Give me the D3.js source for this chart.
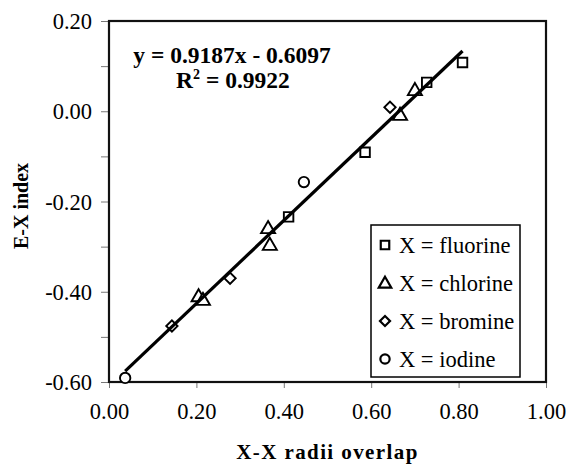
<!DOCTYPE html>
<html>
<head>
<meta charset="utf-8">
<script src="https://cdn.jsdelivr.net/npm/d3@7"></script>
<style>
  body { margin: 0; background: #fff; }
  text { font-family: "Liberation Serif", "Times New Roman", serif; fill: #000; }
</style>
</head>
<body>
<div id="chart"></div>
<script>
// values
var fluorineX = [0.809, 0.727, 0.586, 0.411];
var fluorineY = [0.108, 0.064, -0.091, -0.234];
var chlorineX = [0.700, 0.666, 0.364, 0.368, 0.205, 0.215];
var chlorineY = [0.047, -0.008, -0.259, -0.296, -0.410, -0.418];
var bromineX = [0.643, 0.277, 0.144];
var bromineY = [0.009, -0.370, -0.476];
var iodineX = [0.446, 0.037];
var iodineY = [-0.157, -0.591];

var seriesNames = ['X = fluorine', 'X = chlorine', 'X = bromine', 'X = iodine'];
var xTicks = [0, 0.2, 0.4, 0.6, 0.8, 1.0];
var yTicks = [-0.6, -0.5, -0.4, -0.3, -0.2, -0.1, 0, 0.1, 0.2];

var slope = 0.9187, intercept = -0.6097, r2 = 0.9922;

var width = 569, height = 464;
var plotL = 109, plotR = 546, plotT = 21, plotB = 382;

var svg = d3.select('#chart').append('svg')
  .attr('width', width)
  .attr('height', height);

var x = d3.scaleLinear().domain([0, 1]).range([plotL, plotR]);
var y = d3.scaleLinear().domain([-0.6, 0.2]).range([plotB, plotT]);

var fmt = function(d) {
  var s = Math.abs(d).toFixed(2);
  return (d < -1e-9 ? '-' : '') + s;
};

// y axis: ticks every 0.1, labels every 0.2
var yAxis = svg.append('g')
  .attr('transform', 'translate(' + plotL + ',0)')
  .call(d3.axisLeft(y).tickValues(yTicks).tickSize(8).tickPadding(9)
    .tickFormat(function(d) { return Math.round(d * 10) % 2 === 0 ? fmt(d) : ''; }));
yAxis.select('.domain').remove();
yAxis.selectAll('line').attr('stroke', '#777');
yAxis.selectAll('text').style('font-size', '22.5px').attr('dy', '0.34em');

var xAxis = svg.append('g')
  .attr('transform', 'translate(0,' + plotB + ')')
  .call(d3.axisBottom(x).tickValues(xTicks).tickSize(6).tickFormat(fmt));
xAxis.select('.domain').remove();
xAxis.selectAll('line').attr('stroke', '#777');
xAxis.selectAll('text').style('font-size', '22.5px').attr('y', 37).attr('dy', 0);

// plot frame
svg.append('rect')
  .attr('x', plotL).attr('y', plotT)
  .attr('width', plotR - plotL).attr('height', plotB - plotT)
  .attr('fill', 'none')
  .attr('stroke', '#111')
  .attr('stroke-width', 2.2);

// axis titles
svg.append('text')
  .attr('x', (plotL + plotR) / 2).attr('y', 459)
  .attr('text-anchor', 'middle')
  .style('font-size', '21px').style('font-weight', 'bold').style('letter-spacing', '1.4px')
  .text('X-X radii overlap');

svg.append('text')
  .attr('transform', 'translate(28,' + 206 + ') rotate(-90)')
  .attr('text-anchor', 'middle')
  .style('font-size', '20px').style('font-weight', 'bold')
  .text('E-X index');

// markers
var shapes = [d3.symbolSquare, d3.symbolTriangle, d3.symbolSquare, d3.symbolCircle];
var sizes = [90, 85, 64, 85];
var series = [
  d3.zip(fluorineX, fluorineY),
  d3.zip(chlorineX, chlorineY),
  d3.zip(bromineX, bromineY),
  d3.zip(iodineX, iodineY)
];

series.forEach(function(pts, i) {
  svg.append('g').selectAll('path')
    .data(pts)
    .enter()
    .append('path')
    .attr('d', d3.symbol().type(shapes[i]).size(sizes[i]))
    .attr('transform', function(d) {
      var dy = i === 1 ? 1 : 0;
      return 'translate(' + x(d[0]) + ',' + (y(d[1]) + dy) + ')' + (i === 2 ? ' rotate(45)' : '');
    })
    .attr('fill', '#fff')
    .attr('stroke', '#000')
    .attr('stroke-width', 1.9);
});

// trendline over full data range
var allX = fluorineX.concat(chlorineX, bromineX, iodineX);
var xMin = d3.min(allX), xMax = d3.max(allX);
svg.append('line')
  .attr('x1', x(xMin)).attr('y1', y(slope * xMin + intercept))
  .attr('x2', x(xMax)).attr('y2', y(slope * xMax + intercept))
  .attr('stroke', '#000')
  .attr('stroke-width', 3.2);

// equation
var eq = svg.append('g').style('font-size', '23.5px').style('font-weight', 'bold');
eq.append('text')
  .attr('x', 232).attr('y', 63)
  .attr('text-anchor', 'middle')
  .text('y = ' + slope + 'x - ' + Math.abs(intercept));
var r2t = eq.append('text')
  .attr('x', 233).attr('y', 88)
  .attr('text-anchor', 'middle');
r2t.append('tspan').text('R');
r2t.append('tspan').attr('dy', -9).style('font-size', '14px').text('2');
r2t.append('tspan').attr('dy', 9).text(' = ' + r2);

// legend
var legend = svg.append('g');
legend.append('rect')
  .attr('x', 371).attr('y', 225)
  .attr('width', 149).attr('height', 152)
  .attr('fill', '#fff')
  .attr('stroke', '#000')
  .attr('stroke-width', 1.5);

var items = legend.selectAll('.item')
  .data(seriesNames)
  .enter()
  .append('g')
  .attr('class', 'item')
  .attr('transform', function(d, i) { return 'translate(385,' + (245 + i * 38) + ')'; });

items.append('path')
  .attr('d', function(d, i) { return d3.symbol().type(shapes[i]).size(sizes[i] * 0.8)(); })
  .attr('transform', function(d, i) { return i === 2 ? 'rotate(45)' : (i === 1 ? 'translate(0,1)' : ''); })
  .attr('fill', '#fff')
  .attr('stroke', '#000')
  .attr('stroke-width', 2.2);

items.append('text')
  .attr('x', 14).attr('y', 7.5)
  .style('font-size', '22.5px')
  .text(function(d) { return d; });
</script>
</body>
</html>
